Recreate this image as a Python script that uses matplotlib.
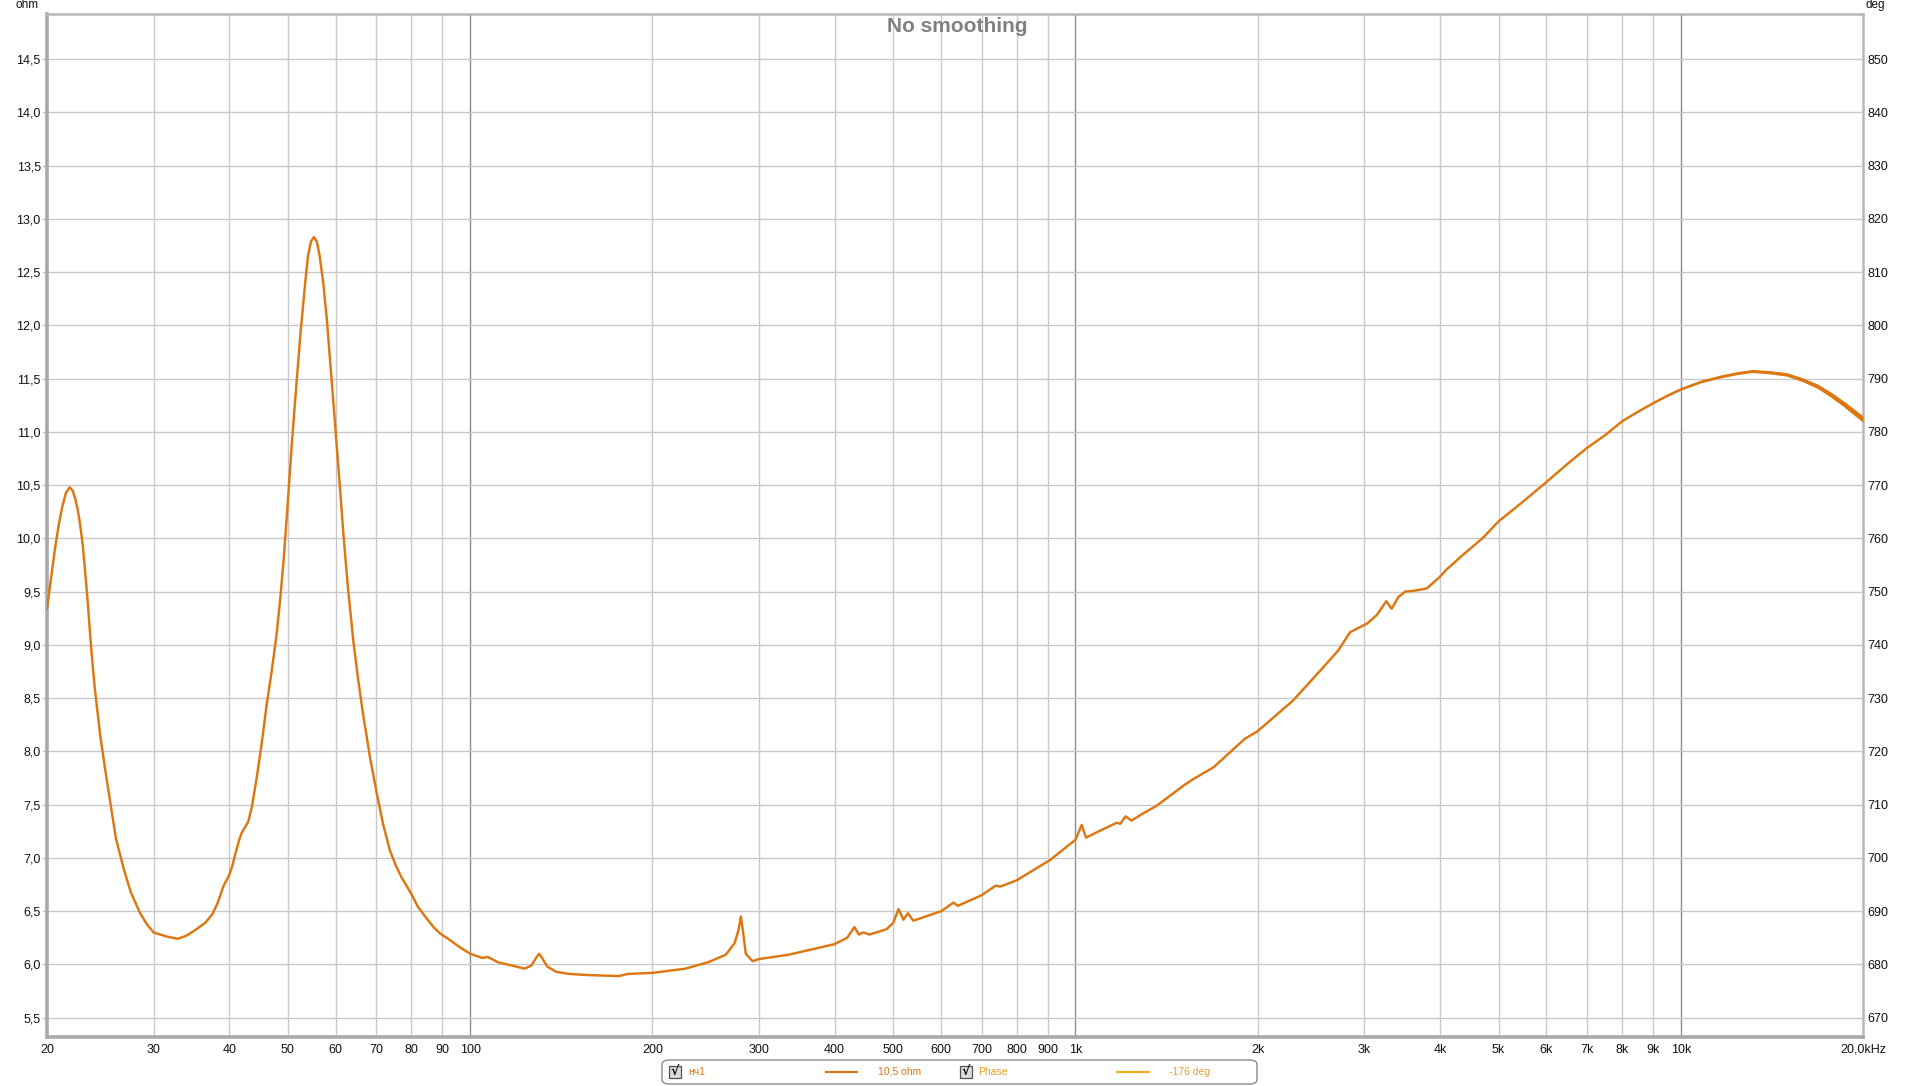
"""
Impedance sweep of the woofer (нч1), REW style, no smoothing.
"""

import numpy as np
import matplotlib.pyplot as plt
from matplotlib.patches import FancyBboxPatch, Rectangle
from matplotlib.ticker import FixedLocator, FixedFormatter

FIG_PATH = "out.png"
W, H = 1920, 1086

# impedance curve
freq_hz = [
    20.0, 20.3, 20.6, 20.9, 21.2, 21.5, 21.8, 22.05, 22.3, 22.5, 22.7, 22.9, 23.1,
    23.35, 23.6, 23.8, 24.0, 24.5, 25.0, 25.4, 26.0, 26.8, 27.5, 28.5, 29.3,
    30.0, 31.6, 32.9, 34.0, 35.3, 36.5, 37.5, 38.3, 39.1, 40.0, 40.5, 41.0, 41.5,
    41.9, 42.5, 43.0, 43.6, 44.4, 45.2, 46.1, 47.0, 47.9, 48.6, 49.2, 50.0, 50.8,
    51.7, 52.5, 53.4, 54.0, 54.6, 55.2, 55.8, 56.4, 57.2, 58.0, 58.7, 59.5, 60.2,
    61.0, 61.7, 62.8, 64.1, 65.3, 66.6, 68.3, 70.1, 71.8, 73.7, 75.5, 77.0, 80.0,
    82.0, 84.8, 87.0, 89.2, 92.0, 96.2, 100, 104.8, 106.9,
    111.2, 117.0, 123.1, 126.3, 128.5, 130.0, 131.5, 134.1, 138.7, 146, 156.2,
    176.0, 182.0, 200, 226.9, 247.2, 264.4, 273.5, 277.5, 280.1, 282.5, 285.4,
    292.8, 300, 335.4, 400, 419.7, 431.4, 438.8, 446.2, 457.0, 487.3, 500, 510.2,
    519.8, 528.8, 539.6, 600.5, 628.7, 639.5, 700, 738.5, 751.3, 800, 907.9,
    1000, 1024, 1041, 1084, 1170, 1186, 1210, 1238, 1278, 1362, 1518, 1566, 1690,
    1906, 2000, 2290, 2567, 2719, 2843, 2960, 3031, 3146, 3262, 3330, 3416, 3504,
    3638, 3805, 4000, 4106, 4335, 4700, 5000, 5500, 6000, 6500, 7000, 7500,
    8000, 8500, 9000, 9500, 10000, 10800, 11680, 12400, 13120, 14000, 14960,
    15900, 16810, 17700, 18620, 19300, 20000,
]
impedance_ohm = [
    9.34, 9.62, 9.89, 10.12, 10.30, 10.43, 10.48, 10.45, 10.36, 10.26, 10.12, 9.95, 9.72,
    9.40, 9.05, 8.80, 8.58, 8.14, 7.80, 7.55, 7.18, 6.89, 6.68, 6.48, 6.37,
    6.30, 6.26, 6.24, 6.27, 6.33, 6.39, 6.47, 6.58, 6.73, 6.84, 6.93, 7.05, 7.16,
    7.23, 7.29, 7.34, 7.48, 7.75, 8.05, 8.43, 8.75, 9.10, 9.45, 9.80, 10.35, 10.92,
    11.48, 11.95, 12.40, 12.66, 12.79, 12.83, 12.79, 12.66, 12.40, 12.05, 11.68, 11.25, 10.88,
    10.45, 10.07, 9.55, 9.05, 8.68, 8.34, 7.95, 7.61, 7.32, 7.07, 6.92, 6.82, 6.66,
    6.54, 6.43, 6.35, 6.29, 6.24, 6.16, 6.10, 6.06, 6.07,
    6.02, 5.99, 5.96, 5.99, 6.06, 6.10, 6.06, 5.98, 5.93, 5.91, 5.90,
    5.89, 5.91, 5.92, 5.96, 6.02, 6.09, 6.20, 6.32, 6.45, 6.30, 6.10,
    6.03, 6.05, 6.09, 6.19, 6.25, 6.35, 6.28, 6.30, 6.28, 6.33, 6.39, 6.52,
    6.42, 6.48, 6.41, 6.50, 6.58, 6.55, 6.65, 6.74, 6.73, 6.79, 6.98,
    7.17, 7.31, 7.19, 7.24, 7.33, 7.32, 7.39, 7.35, 7.40, 7.49, 7.69, 7.74, 7.85,
    8.12, 8.19, 8.48, 8.79, 8.95, 9.12, 9.17, 9.20, 9.28, 9.41, 9.34, 9.45, 9.50,
    9.51, 9.53, 9.64, 9.71, 9.83, 10.00, 10.16, 10.35, 10.53, 10.70, 10.85, 10.97,
    11.10, 11.19, 11.27, 11.34, 11.40, 11.47, 11.52, 11.55, 11.57, 11.56, 11.54,
    11.49, 11.43, 11.35, 11.26, 11.19, 11.12,
]
# spread of the noisy trace from 8 kHz up (half width, ohm), for the last points
hf_noise_ohm = [0.0, 0.002, 0.004, 0.005, 0.007, 0.008, 0.010, 0.011, 0.012,
                0.014, 0.016, 0.018, 0.021, 0.024, 0.027, 0.029, 0.030]

x_major = [100, 1000, 10000]
x_major_labels = ["100", "1k", "10k"]
x_minor = [20, 30, 40, 50, 60, 70, 80, 90, 200, 300, 400, 500, 600, 700, 800, 900,
           2000, 3000, 4000, 5000, 6000, 7000, 8000, 9000, 20000]
x_minor_labels = ["20", "30", "40", "50", "60", "70", "80", "90", "200", "300", "400",
                  "500", "600", "700", "800", "900", "2k", "3k", "4k", "5k", "6k",
                  "7k", "8k", "9k", "20,0kHz"]
ohm_ticks = [5.5 + 0.5 * i for i in range(19)]
deg_ticks = [670 + 10 * i for i in range(19)]

legend_name = "нч1"
legend_value = "10,5 ohm"
phase_name = "Phase"
phase_value = "-176 deg"

LINE = "#DD7711"
PHASE = "#F0B024"
PHASE_TXT = "#E9A028"
GRID = "#C9C9C9"
GRID_DEC = "#8E8E8E"
SPINE = "#A9A9A9"


def fx(px):
    return px / W


def fy(py):
    return 1 - py / H


def main() -> None:
    plt.rcParams["font.family"] = ["Liberation Sans", "DejaVu Sans"]
    fig = plt.figure(figsize=(W / 100, H / 100), dpi=100)
    fig.patch.set_facecolor("white")

    left, right, top, bottom = 47, 1863, 14, 1037
    ax = fig.add_axes([fx(left), fy(bottom), (right - left) / W, (bottom - top) / H])

    ax.set_xscale("log")
    ax.set_xlim(20, 20000)
    ylo, yhi = 5.318, 14.925
    ax.set_ylim(ylo, yhi)

    f = np.array(freq_hz)
    z = np.array(impedance_ohm)
    n = len(hf_noise_ohm)
    half = np.array(hf_noise_ohm)
    ax.fill_between(f[-n:], z[-n:] - half, z[-n:] + half, color=LINE, lw=0, zorder=3)
    ax.plot(f, z, color=LINE, lw=1.75, zorder=4, solid_joinstyle="round")

    ax.xaxis.set_major_locator(FixedLocator(x_major))
    ax.xaxis.set_major_formatter(FixedFormatter(x_major_labels))
    ax.xaxis.set_minor_locator(FixedLocator(x_minor))
    ax.xaxis.set_minor_formatter(FixedFormatter(x_minor_labels))
    ax.set_yticks(ohm_ticks)
    ax.set_yticklabels([f"{v:.1f}".replace(".", ",") for v in ohm_ticks])

    ax.grid(True, which="major", axis="x", color=GRID_DEC, lw=1.0, zorder=1)
    ax.grid(True, which="minor", axis="x", color=GRID, lw=1.0, zorder=1)
    ax.grid(True, which="major", axis="y", color=GRID, lw=1.0, zorder=1)
    ax.set_axisbelow(True)

    ax.tick_params(axis="x", which="both", length=0, pad=5, labelsize=9, colors="#111111")
    ax.tick_params(axis="y", length=3, width=1, color=SPINE, pad=1.5, labelsize=9,
                   labelcolor="#111111")

    for side in ["left", "bottom"]:
        ax.spines[side].set_color(SPINE)
        ax.spines[side].set_linewidth(2.6)
    for side in ["top", "right"]:
        ax.spines[side].set_color("#B8B8B8")
        ax.spines[side].set_linewidth(1.8)

    # phase axis on the right, same grid
    ax2 = ax.twinx()
    ax2.set_ylim(670 + (ylo - 5.5) * 20, 670 + (yhi - 5.5) * 20)
    ax2.set_yticks(deg_ticks)
    ax2.tick_params(axis="y", length=0, pad=3, labelsize=9, labelcolor="#111111")
    for sp in ax2.spines.values():
        sp.set_visible(False)

    fig.text(fx(15), fy(5), "ohm", fontsize=8.5, va="center", ha="left", color="#111111")
    fig.text(fx(1866), fy(5), "deg", fontsize=8.5, va="center", ha="left", color="#111111")
    fig.text(fx(957), fy(26), "No smoothing", fontsize=15, fontweight="bold",
             color="#808080", ha="center", va="center")

    # legend strip under the axis
    box = FancyBboxPatch((fx(662), fy(1084)), fx(1257 - 662), (1084 - 1060) / H,
                         boxstyle="round,pad=0,rounding_size=0.004",
                         transform=fig.transFigure, facecolor="white",
                         edgecolor="#8A8A8A", lw=1.0)
    fig.patches.append(box)
    yc = fy(1072)
    for cx in [669, 960]:
        fig.patches.append(Rectangle((fx(cx), fy(1078)), fx(12), 12 / H,
                                     transform=fig.transFigure, facecolor="#DCDCDC",
                                     edgecolor="#505050", lw=0.9))
        fig.text(fx(cx + 6), yc, "√", fontsize=9, fontweight="bold", color="#111111",
                 ha="center", va="center", family=["DejaVu Sans"])
    fig.text(fx(688), yc, legend_name, fontsize=7.5, color=LINE, va="center")
    fig.lines.append(plt.Line2D([fx(826), fx(857)], [yc, yc], color=LINE, lw=1.6,
                                transform=fig.transFigure))
    fig.text(fx(878), yc, legend_value, fontsize=7.5, color=LINE, va="center")
    fig.text(fx(978), yc, phase_name, fontsize=7.5, color=PHASE_TXT, va="center")
    fig.lines.append(plt.Line2D([fx(1117), fx(1149)], [yc, yc], color=PHASE, lw=1.6,
                                transform=fig.transFigure))
    fig.text(fx(1169), yc, phase_value, fontsize=7.5, color=PHASE_TXT, va="center")

    fig.savefig(FIG_PATH, dpi=100, facecolor="white")
    plt.close(fig)


if __name__ == "__main__":
    main()
